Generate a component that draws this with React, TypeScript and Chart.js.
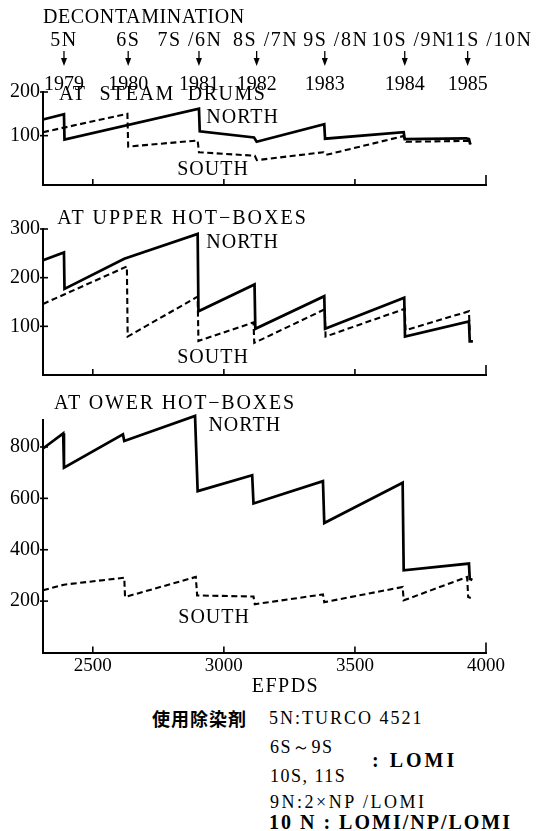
import React, { useEffect, useRef } from "react";
import { Chart, registerables } from "chart.js";

Chart.register(...registerables);

// ---------- data ----------
const X_MIN = 2310;
const X_MAX = 4000;
const X_TICKS = [2500, 3000, 3500, 4000];

const DECON_EFPD = [2390, 2635, 2905, 3125, 3385, 3690, 3930];
const DECON_LABELS = ["5N", "6S", "7S /6N", "8S /7N", "9S /8N", "10S /9N", "11S /10N"];
const DECON_YEARS = ["1979", "1980", "1981", "1982", "1983", "1984", "1985"];

const STEAM_NORTH: [number, number][] = [
  [2310, 137], [2390, 149], [2392, 91], [2905, 162], [2908, 110], [3115, 96],
  [3125, 86], [3383, 126], [3386, 93], [3686, 108], [3690, 92], [3925, 94],
  [3935, 92], [3940, 80],
];
const STEAM_SOUTH: [number, number][] = [
  [2310, 108], [2632, 150], [2635, 75], [2900, 89], [2905, 62], [3118, 54],
  [3126, 44], [3380, 62], [3390, 56], [3685, 99], [3695, 86], [3935, 88],
  [3942, 80],
];
const STEAM_Y_TICKS = [100, 200];

const UPPER_NORTH: [number, number][] = [
  [2310, 236], [2390, 252], [2392, 177], [2620, 239], [2900, 290], [2903, 131],
  [3117, 186], [3120, 95], [3383, 162], [3386, 95], [3688, 159], [3691, 79],
  [3935, 110], [3938, 69], [3950, 69],
];
const UPPER_SOUTH: [number, number][] = [
  [2310, 146], [2630, 223], [2633, 79], [2900, 161], [2903, 70], [3113, 108],
  [3116, 66], [3385, 135], [3388, 79], [3690, 136], [3693, 92], [3935, 131],
  [3938, 86],
];
const UPPER_Y_TICKS = [100, 200, 300];

const LOWER_NORTH: [number, number][] = [
  [2310, 794], [2387, 853], [2390, 719], [2615, 849], [2620, 823], [2890, 921],
  [2900, 628], [3108, 690], [3113, 580], [3378, 667], [3383, 504], [3682, 661],
  [3686, 320], [3935, 346], [3938, 287], [3948, 282],
];
const LOWER_SOUTH: [number, number][] = [
  [2310, 242], [2390, 264], [2620, 291], [2623, 216], [2893, 294], [2898, 222],
  [3113, 218], [3118, 188], [3378, 226], [3383, 196], [3682, 255], [3686, 203],
  [3928, 294], [3932, 216], [3942, 212],
];
const LOWER_Y_TICKS = [200, 400, 600, 800];

const FOOTER_HEAD = "使用除染剤";

// ---------- styles ----------
const SERIF = '"Liberation Serif", "Times New Roman", serif';
const CHART_LEFT = 43;
const CHART_RIGHT_PAD = 57;

const toXY = (arr: [number, number][]) => arr.map(([x, y]) => ({ x, y }));

const axisMarks = {
  id: "axisMarks",
  afterDraw(chart: any) {
    const { ctx, chartArea: a, scales } = chart;
    const x = scales.x;
    const y = scales.y;
    ctx.save();
    ctx.strokeStyle = "#000";
    ctx.lineWidth = 1.6;
    X_TICKS.forEach((v) => {
      const px = x.getPixelForValue(v);
      const len = v === X_MAX ? 10 : 6;
      ctx.beginPath();
      ctx.moveTo(px, a.bottom);
      ctx.lineTo(px, a.bottom - len);
      ctx.stroke();
    });
    y.ticks.forEach((t: any) => {
      const py = y.getPixelForValue(t.value);
      ctx.beginPath();
      ctx.moveTo(a.left - 3, py);
      ctx.lineTo(a.left + 5, py);
      ctx.stroke();
    });
    ctx.restore();
  },
};

const panelText = {
  id: "panelText",
  afterDraw(chart: any, _args: any, opts: any) {
    const { ctx, scales } = chart;
    const items = opts.items || [];
    ctx.save();
    ctx.fillStyle = "#000";
    ctx.textBaseline = "middle";
    for (let i = 0; i < items.length; i++) {
      const it = items[i];
      ctx.font = it.font;
      (ctx as any).letterSpacing = it.ls || "0px";
      ctx.textAlign = it.align || "left";
      ctx.fillText(it.text, scales.x.getPixelForValue(it.x), scales.y.getPixelForValue(it.y));
    }
    ctx.restore();
  },
};

const decoHeader = {
  id: "decoHeader",
  afterDraw(chart: any, _args: any, opts: any) {
    if (!opts.show) return;
    const { ctx, scales, chartArea } = chart;
    const x = scales.x;
    const dx = opts.labelDx || [];
    ctx.save();
    ctx.fillStyle = "#000";
    ctx.strokeStyle = "#000";
    ctx.textBaseline = "middle";
    ctx.font = `20px ${SERIF}`;
    (ctx as any).letterSpacing = "0.6px";
    ctx.textAlign = "left";
    ctx.fillText("DECONTAMINATION", chartArea.left, 18);
    DECON_EFPD.forEach((e, i) => {
      const px = x.getPixelForValue(e);
      ctx.textAlign = "center";
      (ctx as any).letterSpacing = "1.5px";
      ctx.font = `20px ${SERIF}`;
      ctx.fillText(DECON_LABELS[i], px + (dx[i] || 0), 41);
      ctx.lineWidth = 1.3;
      ctx.beginPath();
      ctx.moveTo(px, 51);
      ctx.lineTo(px, 60);
      ctx.stroke();
      ctx.beginPath();
      ctx.moveTo(px - 3, 58);
      ctx.lineTo(px + 3, 58);
      ctx.lineTo(px, 66);
      ctx.closePath();
      ctx.fill();
      (ctx as any).letterSpacing = "0px";
      ctx.fillText(DECON_YEARS[i], px, 85);
    });
    ctx.restore();
  },
};

type Spec = {
  north: [number, number][];
  south: [number, number][];
  yMin: number;
  yMax: number;
  yTicks: number[];
  padTop: number;
  xAxisHeight: number;
  showXLabels: boolean;
  texts: any[];
  header?: boolean;
};

function makeConfig(s: Spec): any {
  return {
    type: "line",
    data: {
      datasets: [
        {
          data: toXY(s.north),
          borderColor: "#000",
          borderWidth: 2.7,
          pointRadius: 0,
          tension: 0,
          fill: false,
          clip: false,
          borderJoinStyle: "miter",
        },
        {
          data: toXY(s.south),
          borderColor: "#000",
          borderWidth: 2.1,
          borderDash: [6, 3.5],
          pointRadius: 0,
          tension: 0,
          fill: false,
          clip: false,
        },
      ],
    },
    options: {
      animation: false,
      responsive: false,
      maintainAspectRatio: false,
      layout: { padding: { top: s.padTop, right: CHART_RIGHT_PAD, bottom: 0, left: 0 } },
      plugins: {
        legend: { display: false },
        tooltip: { enabled: false },
        title: { display: false },
        panelText: { items: s.texts },
        decoHeader: { show: !!s.header, labelDx: [0, 0, -9, 9, 11, 5, 21] },
      },
      scales: {
        x: {
          type: "linear",
          min: X_MIN,
          max: X_MAX,
          afterBuildTicks: (sc: any) => {
            sc.ticks = X_TICKS.map((v) => ({ value: v }));
          },
          afterFit: (sc: any) => {
            sc.height = s.xAxisHeight;
          },
          grid: { display: false, drawTicks: false },
          border: { display: true, color: "#000", width: 2 },
          ticks: {
            display: s.showXLabels,
            color: "#000",
            padding: 2,
            maxRotation: 0,
            font: { family: SERIF, size: 19 },
            callback: (v: any) => String(v),
          },
        },
        y: {
          type: "linear",
          min: s.yMin,
          max: s.yMax,
          afterBuildTicks: (sc: any) => {
            sc.ticks = s.yTicks.map((v) => ({ value: v }));
          },
          afterFit: (sc: any) => {
            sc.width = CHART_LEFT;
          },
          grid: { display: false, drawTicks: false },
          border: { display: true, color: "#000", width: 2 },
          ticks: {
            color: "#000",
            padding: 3,
            font: { family: SERIF, size: 20 },
            callback: (v: any) => String(v),
          },
        },
      },
    },
    plugins: [axisMarks, panelText, decoHeader],
  };
}

const T20 = `20px ${SERIF}`;

const PANELS: { top: number; height: number; spec: Spec }[] = [
  {
    top: 0,
    height: 200,
    spec: {
      north: STEAM_NORTH,
      south: STEAM_SOUTH,
      yMin: -13,
      yMax: 200,
      yTicks: STEAM_Y_TICKS,
      padTop: 92,
      xAxisHeight: 10,
      showXLabels: false,
      header: true,
      texts: [
        { text: "AT  STEAM  DRUMS", x: 2371, y: 194, font: T20, ls: "1.5px" },
        { text: "NORTH", x: 2933, y: 141, font: T20, ls: "1px" },
        { text: "SOUTH", x: 2822, y: 23, font: T20, ls: "1px" },
      ],
    },
  },
  {
    top: 200,
    height: 190,
    spec: {
      north: UPPER_NORTH,
      south: UPPER_SOUTH,
      yMin: 0,
      yMax: 300,
      yTicks: UPPER_Y_TICKS,
      padTop: 29,
      xAxisHeight: 7,
      showXLabels: false,
      texts: [
        { text: "AT UPPER HOT−BOXES", x: 2364, y: 321, font: T20, ls: "2px" },
        { text: "NORTH", x: 2933, y: 272, font: T20, ls: "1px" },
        { text: "SOUTH", x: 2822, y: 35, font: T20, ls: "1px" },
      ],
    },
  },
  {
    top: 390,
    height: 313,
    spec: {
      north: LOWER_NORTH,
      south: LOWER_SOUTH,
      yMin: 0,
      yMax: 905,
      yTicks: LOWER_Y_TICKS,
      padTop: 30,
      xAxisHeight: 50.5,
      showXLabels: true,
      texts: [
        { text: "AT OWER HOT−BOXES", x: 2352, y: 967, font: T20, ls: "1.8px" },
        { text: "NORTH", x: 2941, y: 884, font: T20, ls: "1px" },
        { text: "SOUTH", x: 2826, y: 136, font: T20, ls: "1px" },
        { text: "EFPDS", x: 3235, y: -134, font: T20, ls: "1.5px", align: "center" },
      ],
    },
  },
];

function Panel({ top, height, spec }: { top: number; height: number; spec: Spec }) {
  const ref = useRef<HTMLCanvasElement | null>(null);
  useEffect(() => {
    if (!ref.current) return;
    const chart = new Chart(ref.current, makeConfig(spec));
    return () => chart.destroy();
  }, []);
  return (
    <canvas
      ref={ref}
      width={543}
      height={height}
      style={{ position: "absolute", left: 0, top, width: 543, height }}
    />
  );
}

const txt = (extra: React.CSSProperties): React.CSSProperties => ({
  position: "absolute",
  whiteSpace: "nowrap",
  lineHeight: 1,
  fontFamily: SERIF,
  fontSize: 18,
  color: "#000",
  ...extra,
});

export default function App() {
  return (
    <div style={{ position: "absolute", left: 0, top: 0, width: 543, height: 831, background: "#fff", overflow: "hidden" }}>
      {PANELS.map((p, i) => (
        <Panel key={i} top={p.top} height={p.height} spec={p.spec} />
      ))}
      <div style={txt({ left: 152, top: 709, fontFamily: '"Noto Sans CJK JP", sans-serif', fontSize: 18, fontWeight: 700, letterSpacing: 1 })}>
        {FOOTER_HEAD}
      </div>
      <div style={txt({ left: 269, top: 709, letterSpacing: 2 })}>5N:TURCO 4521</div>
      <div style={txt({ left: 270, top: 738, letterSpacing: 1.5 })}>6S～9S</div>
      <div style={txt({ left: 372, top: 750, fontSize: 20, fontWeight: 700, letterSpacing: 3 })}>: LOMI</div>
      <div style={txt({ left: 270, top: 767, letterSpacing: 1.5 })}>10S, 11S</div>
      <div style={txt({ left: 270, top: 793, letterSpacing: 2.5 })}>9N:2×NP /LOMI</div>
      <div style={txt({ left: 269, top: 812, fontSize: 20, fontWeight: 700, letterSpacing: 2 })}>10 N : LOMI/NP/LOMI</div>
    </div>
  );
}
